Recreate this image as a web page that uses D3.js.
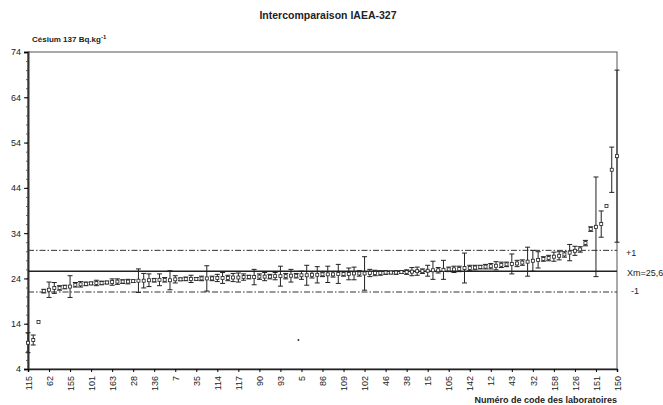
<!DOCTYPE html>
<html>
<head>
<meta charset="utf-8">
<script src="https://cdn.jsdelivr.net/npm/d3@7/dist/d3.min.js"></script>
<style>
  body { margin: 0; background: #fff; }
  svg text { font-family: "Liberation Sans", Arial, sans-serif; fill: #222; }
</style>
</head>
<body>
<svg width="663" height="405"></svg>
<script>
// lab codes shown under the axis (one every 4 categories)
const tickCodes = ["115", "62", "155", "101", "163", "28", "136", "7", "35", "114",
  "117", "90", "93", "5", "86", "109", "102", "46", "38", "15",
  "105", "142", "12", "43", "32", "158", "126", "151", "150"];

// Cs-137 results, Bq/kg, sorted
const values = [9.8, 10.4, 14.4, 21.2, 21.5, 21.9, 21.9, 22.1, 22.2, 22.6,
  22.7, 22.8, 22.9, 23.0, 23.0, 23.1, 23.2, 23.3, 23.3, 23.3,
  23.4, 23.5, 23.5, 23.6, 23.6, 23.7, 23.7, 23.6, 23.8, 23.8,
  23.9, 23.9, 23.9, 24.0, 24.0, 24.0, 24.1, 24.1, 24.1, 24.2,
  24.2, 24.3, 24.3, 24.3, 24.4, 24.4, 24.4, 24.5, 24.5, 24.5,
  24.6, 24.6, 24.7, 24.7, 24.8, 24.8, 24.9, 24.9, 24.9, 25.0,
  25.0, 25.0, 25.1, 25.1, 25.1, 25.2, 25.2, 25.2, 25.3, 25.3,
  25.3, 25.4, 25.4, 25.5, 25.6, 25.6, 25.7, 25.8, 25.8, 25.9,
  26.0, 26.0, 26.1, 26.3, 26.3, 26.4, 26.5, 26.6, 26.7, 26.8,
  27.0, 27.1, 27.2, 27.3, 27.5, 27.7, 27.9, 28.1, 28.3, 28.5,
  28.8, 29.0, 29.3, 29.7, 30.1, 30.4, 31.8, 34.9, 35.4, 36.0,
  40.0, 48.0, 51.0];

// half-width of each error bar
const errors = [2.2, 1.1, 0, 0.4, 1.7, 1.2, 0.5, 0.4, 2.4, 0.5,
  0.6, 0.4, 0.3, 0.6, 0.4, 0.3, 0.7, 0.6, 0.4, 0.5,
  0.3, 2.6, 1.6, 1.4, 0.4, 1.3, 0.5, 2.1, 0.8, 0.3,
  0.4, 0.8, 0.3, 0.5, 2.8, 0.5, 0.8, 1.2, 0.6, 0.9,
  1.0, 0.7, 0.4, 1.7, 0.6, 0.9, 0.5, 0.8, 2.2, 0.6,
  1.4, 0.5, 0.9, 2.2, 0.7, 1.8, 0.5, 1.8, 0.6, 2.1,
  0.5, 1.3, 1.4, 0.6, 3.7, 0.8, 0.6, 0.5, 0.4, 0.3,
  0.4, 0.3, 0.5, 0.9, 0.9, 0.5, 1.2, 2.0, 0.6, 2.1,
  0.5, 0.7, 0.6, 3.3, 0.6, 0.5, 0.4, 0.5, 0.6, 0.9,
  0.6, 0.5, 2.2, 0.7, 0.6, 3.2, 2.3, 1.8, 0.5, 0.6,
  1.0, 0.9, 0.6, 1.8, 1.0, 0.6, 0.6, 0.5, 11.0, 2.9,
  0, 5.0, 19.0];

// isolated dot seen under lab "5"
const strayIndex = [52];
const strayValue = [10.4];

const meanValue = 25.6;
const upperLimit = 30.2;  // +1
const lowerLimit = 21.0;  // -1

const margin = { left: 28, top: 52, right: 46, bottom: 36 };
const width = 663, height = 405;

const svg = d3.select("svg");

const xScale = d3.scalePoint()
  .domain(d3.range(values.length))
  .range([margin.left, width - margin.right]);
const yScale = d3.scaleLinear()
  .domain([4, 74])
  .range([height - margin.bottom, margin.top]);

// frame
svg.append("rect")
  .attr("x", margin.left).attr("y", margin.top)
  .attr("width", width - margin.left - margin.right)
  .attr("height", height - margin.top - margin.bottom)
  .attr("fill", "none").attr("stroke", "#555").attr("stroke-width", 1);

// y axis: minor then major ticks
svg.append("g")
  .attr("transform", "translate(" + margin.left + ",0)")
  .call(d3.axisLeft(yScale).tickValues(d3.range(4, 75, 2)).tickSize(2).tickFormat(""))
  .call(g => g.select(".domain").remove())
  .selectAll("line").attr("stroke", "#666");
const yAxisGroup = svg.append("g")
  .attr("transform", "translate(" + margin.left + ",0)")
  .call(d3.axisLeft(yScale).tickValues(d3.range(4, 75, 10)).tickSize(4).tickPadding(3));
yAxisGroup.select(".domain").attr("stroke", "#333").attr("stroke-width", 2);
yAxisGroup.selectAll("text").attr("font-size", 9);

// x axis
const xAxisGroup = svg.append("g")
  .attr("transform", "translate(0," + (height - margin.bottom) + ")")
  .call(d3.axisBottom(xScale)
    .tickValues(d3.range(0, values.length, 4))
    .tickFormat(i => tickCodes[i / 4])
    .tickSize(3));
xAxisGroup.select(".domain").attr("stroke", "#222").attr("stroke-width", 1.5);
xAxisGroup.selectAll("text")
  .attr("font-size", 9)
  .attr("transform", "rotate(-90)")
  .attr("x", -7).attr("y", 0).attr("dy", "0.35em")
  .style("text-anchor", "end");

// reference lines
const x0 = margin.left, x1 = width - margin.right;
svg.append("line")
  .attr("x1", x0).attr("x2", x1)
  .attr("y1", yScale(meanValue)).attr("y2", yScale(meanValue))
  .attr("stroke", "#222").attr("stroke-width", 1.5);
[upperLimit, lowerLimit].forEach(v => {
  svg.append("line")
    .attr("x1", x0).attr("x2", x1)
    .attr("y1", yScale(v)).attr("y2", yScale(v))
    .attr("stroke", "#333").attr("stroke-width", 1)
    .attr("stroke-dasharray", "6,2,1.5,2");
});

// error bars
const chart = svg.append("g").attr("class", "chart");
const bars = chart.selectAll("g.bar")
  .data(values.map((v, i) => ({ i: i, v: v, e: errors[i] })).filter(d => d.e > 0))
  .enter().append("g").attr("class", "bar")
  .attr("stroke", "#222").attr("stroke-width", 1);
bars.append("line")
  .attr("x1", d => xScale(d.i)).attr("x2", d => xScale(d.i))
  .attr("y1", d => yScale(d.v + d.e)).attr("y2", d => yScale(d.v - d.e));
bars.append("line")
  .attr("x1", d => xScale(d.i) - 2.5).attr("x2", d => xScale(d.i) + 2.5)
  .attr("y1", d => yScale(d.v + d.e)).attr("y2", d => yScale(d.v + d.e));
bars.append("line")
  .attr("x1", d => xScale(d.i) - 2.5).attr("x2", d => xScale(d.i) + 2.5)
  .attr("y1", d => yScale(d.v - d.e)).attr("y2", d => yScale(d.v - d.e));

// markers
chart.selectAll("rect.pt")
  .data(values)
  .enter().append("rect").attr("class", "pt")
  .attr("x", (d, i) => xScale(i) - 1.5)
  .attr("y", d => yScale(d) - 1.5)
  .attr("width", 3).attr("height", 3)
  .attr("fill", "#fff").attr("stroke", "#222").attr("stroke-width", 0.8);

chart.selectAll("circle.stray")
  .data(strayValue)
  .enter().append("circle").attr("class", "stray")
  .attr("cx", (d, i) => xScale(strayIndex[i]) - 3)
  .attr("cy", d => yScale(d))
  .attr("r", 1).attr("fill", "#333");

// right-hand labels
const labelX = x1 + 9;
svg.append("text").attr("x", labelX).attr("y", yScale(upperLimit) + 6)
  .attr("font-size", 9).text("+1");
svg.append("text").attr("x", labelX + 1).attr("y", yScale(meanValue) + 5)
  .attr("font-size", 9).text("Xm=25,6");
svg.append("text").attr("x", labelX + 5).attr("y", yScale(lowerLimit) + 2)
  .attr("font-size", 9).text("-1");

// titles
svg.append("text")
  .attr("x", 328).attr("y", 19)
  .attr("text-anchor", "middle")
  .attr("font-size", 10.5).attr("font-weight", "bold")
  .text("Intercomparaison IAEA-327");

const yTitle = svg.append("text")
  .attr("x", 32).attr("y", 42)
  .attr("font-size", 8).attr("font-weight", "bold");
yTitle.append("tspan").text("Césium 137 Bq.kg");
yTitle.append("tspan").attr("dy", -3).attr("font-size", 6).text("-1");

svg.append("text")
  .attr("x", width - margin.right).attr("y", 403)
  .attr("text-anchor", "end")
  .attr("font-size", 9).attr("font-weight", "bold")
  .text("Numéro de code des laboratoires");
</script>
</body>
</html>
